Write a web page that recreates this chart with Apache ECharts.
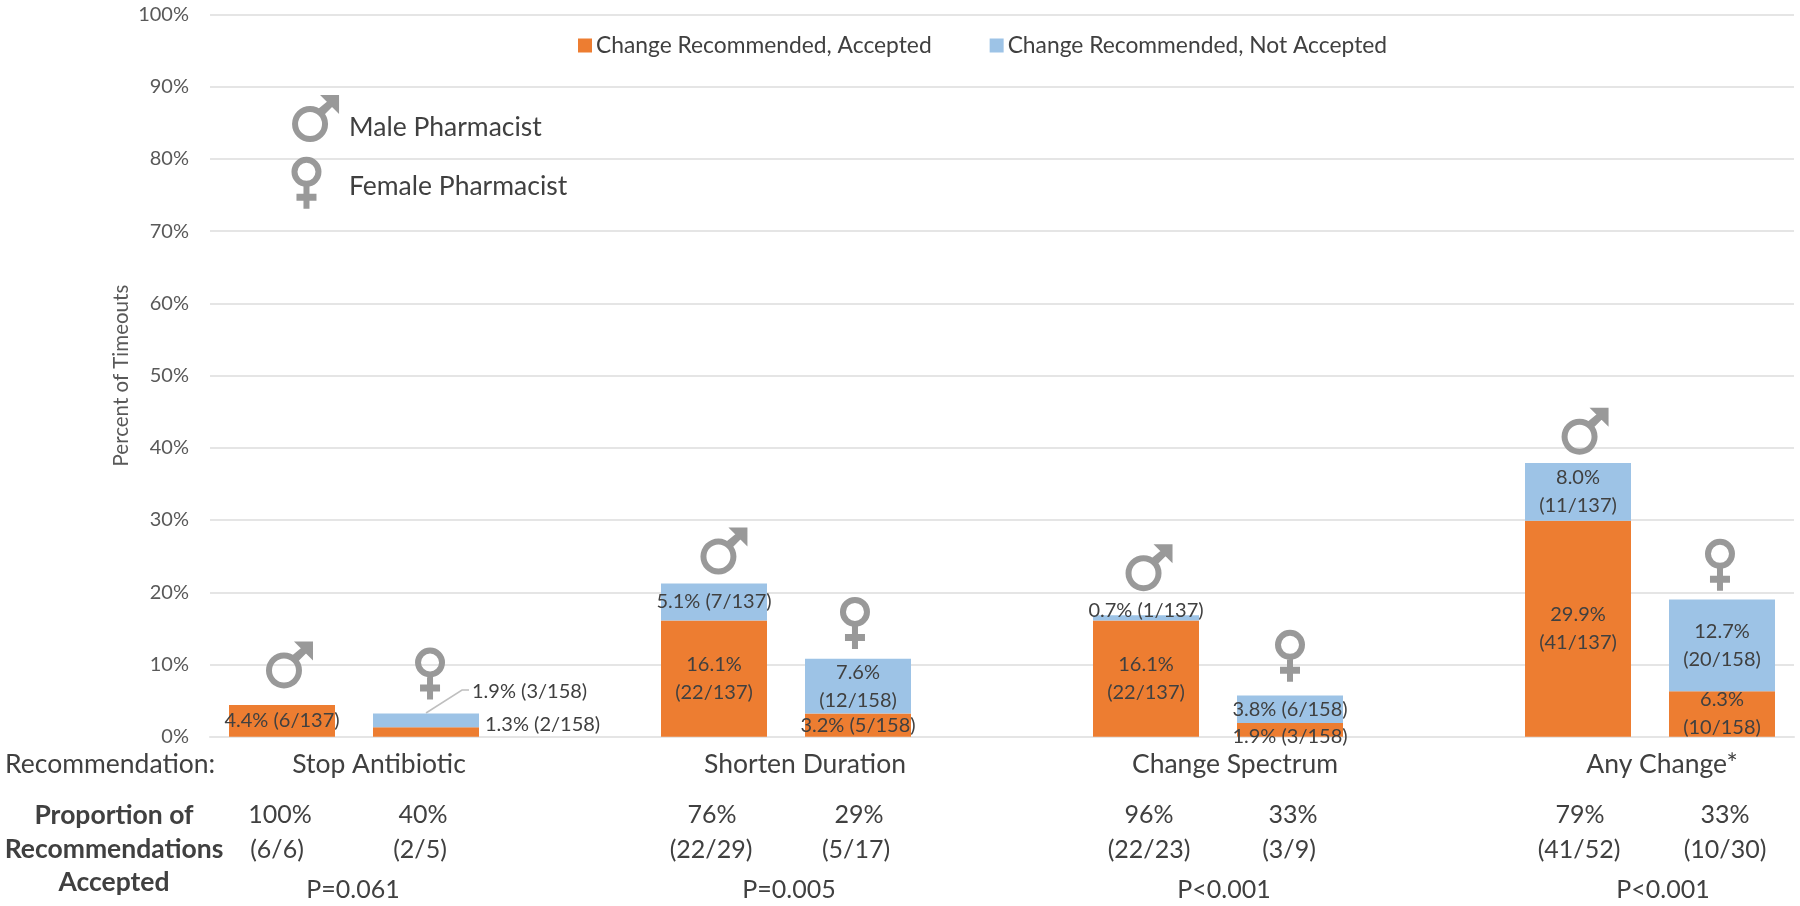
<!DOCTYPE html>
<html><head><meta charset="utf-8">
<style>html,body{margin:0;padding:0;background:#fff}#c{width:1800px;height:906px}</style>
<script src="https://cdn.jsdelivr.net/npm/echarts@6/dist/echarts.min.js"></script></head>
<body><div id="c"></div>
<script>
const categories = ['Stop M','Stop F','','Shorten M','Shorten F','','Spectrum M','Spectrum F','','Any M','Any F'];
const accepted = [4.4,1.3,null,16.1,3.2,null,16.1,1.9,null,29.9,6.3];
const notAccepted = [0,1.9,null,5.1,7.6,null,0.7,3.8,null,8.0,12.7];
const acceptedLabels = ['4.4% (6/137)','1.3% (2/158)','','16.1%\n(22/137)','3.2% (5/158)','','16.1%\n(22/137)','1.9% (3/158)','','29.9%\n(41/137)','6.3%\n(10/158)'];
const notAcceptedLabels = ['','1.9% (3/158)','','5.1% (7/137)','7.6%\n(12/158)','','0.7% (1/137)','3.8% (6/158)','','8.0%\n(11/137)','12.7%\n(20/158)'];
const yTicks = [0,10,20,30,40,50,60,70,80,90,100];
const maleMarkers = [[0.552,9.93],[3.569,25.7],[6.521,23.4],[9.549,42.3],[0.733,85.6]];
const femaleMarkers = [[1.528,8.75],[4.479,15.75],[7.5,11.2],[10.486,23.8],[0.670,76.7]];
const recommendationNames = ['Stop Antibiotic','Shorten Duration','Change Spectrum','Any Change*'];
const proportionPct = ['100%','40%','76%','29%','96%','33%','79%','33%'];
const proportionFrac = ['(6/6)','(2/5)','(22/29)','(5/17)','(22/23)','(3/9)','(41/52)','(10/30)'];
const pValues = ['P=0.061','P=0.005','P<0.001','P<0.001'];

const FONT='Lato', TXT='#404040';
const recX=[379,805,1235,1662], pctX=[280,423,712,859,1149,1293,1580,1725], fracX=[277,420,711,856,1149,1289,1579,1725], pX=[353,789,1224,1663];
const malePath='path://M0 29A18 18 0 1 1 36 29A18 18 0 1 1 0 29ZM6 29A12 12 0 1 0 30 29A12 12 0 1 0 6 29ZM26 14L37 5L42 10L32 20ZM28 0L47 0L47 19Z';
const femalePath='path://M0 15A15 15 0 1 1 30 15A15 15 0 1 1 0 15ZM6 15A9 9 0 1 0 24 15A9 9 0 1 0 6 15ZM12 28L18 28L18 37L25 37L25 44L18 44L18 52L12 52L12 44L5 44L5 37L12 37Z';

const accOverride={1:{position:'right',distance:6,offset:[0,-7]},7:{offset:[0,7]}};
const notOverride={1:{show:false},6:{offset:[0,-7]}};
const mk=(vals,ov)=>vals.map((v,i)=>({value:v,label:ov[i]||{}}));
const barLabel=arr=>({show:true,position:'inside',color:TXT,fontFamily:FONT,fontSize:20,lineHeight:28,
  formatter:p=>arr[p.dataIndex]||''});
function t(text,x,y,o){return {type:'text',silent:true,style:Object.assign({text,x,y,fill:TXT,font:'25px '+FONT,textAlign:'center',textVerticalAlign:'middle'},o||{})};}
const g=[];
const BIG='26.5px '+FONT, BOLD='bold 26.5px '+FONT;
g.push(t('Recommendation:',5,764,{textAlign:'left',font:BIG}));
g.push(t('Proportion of',114,815,{font:BOLD}));
g.push(t('Recommendations',114,849,{font:BOLD}));
g.push(t('Accepted',114,882,{font:BOLD}));
recommendationNames.forEach((s,i)=>g.push(t(s,recX[i],764,{font:BIG})));
proportionPct.forEach((s,i)=>g.push(t(s,pctX[i],815)));
proportionFrac.forEach((s,i)=>g.push(t(s,fracX[i],850)));
pValues.forEach((s,i)=>g.push(t(s,pX[i],890)));
g.push(t('Male Pharmacist',349,127,{textAlign:'left',font:BIG}));
g.push(t('Female Pharmacist',349,186,{textAlign:'left',font:BIG}));
g.push(t('1.9% (3/158)',472,692,{textAlign:'left',font:'20px '+FONT}));
g.push({type:'polyline',silent:true,shape:{points:[[426,713],[462,690],[469,690]]},style:{stroke:'#bfbfbf',lineWidth:1.5,fill:null}});

const chart=echarts.init(document.getElementById('c'),null,{renderer:'canvas'});
chart.setOption({
  animation:false,backgroundColor:'#fff',
  textStyle:{fontFamily:FONT},
  grid:{left:210,right:6,top:14.5,bottom:169.3,containLabel:false},
  legend:{left:573,top:29,itemWidth:14,itemHeight:14,itemGap:58,icon:'rect',selectedMode:false,
    data:['Change Recommended, Accepted','Change Recommended, Not Accepted'],
    textStyle:{color:TXT,fontFamily:FONT,fontSize:22.8,padding:[0,0,0,-1]}},
  xAxis:[
    {type:'category',data:categories,axisTick:{show:false},axisLabel:{show:false},
     axisLine:{lineStyle:{color:'#e5e5e5',width:2}},splitLine:{show:false}},
    {type:'value',min:0,max:11,show:false}
  ],
  yAxis:{type:'value',min:0,max:100,interval:10,
    name:'Percent of Timeouts',nameLocation:'middle',nameGap:78,nameRotate:90,nameMoveOverlap:false,
    nameTextStyle:{color:'#595959',fontSize:20.5,fontFamily:FONT},
    axisLine:{show:false},axisTick:{show:false},
    axisLabel:{color:'#595959',fontSize:20,fontFamily:FONT,margin:21,formatter:v=>yTicks.includes(v)?v+'%':''},
    splitLine:{lineStyle:{color:'#e5e5e5',width:2}}},
  series:[
    {name:'Change Recommended, Accepted',type:'bar',stack:'a',barWidth:106,data:mk(accepted,accOverride),
     itemStyle:{color:'#ED7D31'},label:barLabel(acceptedLabels)},
    {name:'Change Recommended, Not Accepted',type:'bar',stack:'a',barWidth:106,data:mk(notAccepted,notOverride),
     itemStyle:{color:'#9DC3E6'},label:barLabel(notAcceptedLabels)},
    {name:'Male',type:'scatter',xAxisIndex:1,yAxisIndex:0,symbol:malePath,symbolSize:[47,47],data:maleMarkers,
     itemStyle:{color:'#999999',opacity:1},silent:true,z:5},
    {name:'Female',type:'scatter',xAxisIndex:1,yAxisIndex:0,symbol:femalePath,symbolSize:[30,52],data:femaleMarkers,
     itemStyle:{color:'#999999',opacity:1},silent:true,z:5}
  ],
  graphic:g
});
</script></body></html>
